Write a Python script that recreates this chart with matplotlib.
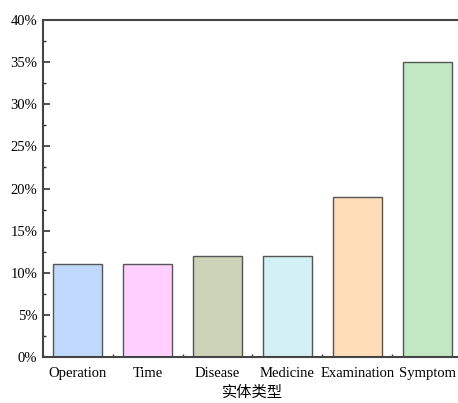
import matplotlib
matplotlib.use("Agg")
import matplotlib.pyplot as plt
from matplotlib.ticker import MultipleLocator, FuncFormatter

categories = ["Operation", "Time", "Disease", "Medicine", "Examination", "Symptom"]
values = [11, 11, 12, 12, 19, 35]
colors = ["#C0D8FB", "#FFD0FF", "#CDD3B8", "#D3F0F5", "#FFDDB8", "#C1E8C3"]

plt.rcParams["font.family"] = ["Liberation Serif", "Noto Sans CJK SC"]

fig = plt.figure(figsize=(4.58, 4.03), dpi=100)
# axes extend a bit past the right edge, like the cropped original
ax = fig.add_axes([43 / 458, 1 - 357 / 403, 419 / 458, 337 / 403])

x = list(range(len(categories)))
ax.bar(x, values, width=0.7, color=colors, edgecolor="#555555", linewidth=1.0, zorder=2)

ax.set_xlim(-0.5, 5.5)
ax.set_ylim(0, 40)
ax.set_xticks(x)
ax.set_xticklabels(categories, fontsize=10.5)
ax.xaxis.set_minor_locator(MultipleLocator(1, offset=0.5))
ax.yaxis.set_major_locator(MultipleLocator(5))
ax.yaxis.set_minor_locator(MultipleLocator(2.5))
ax.yaxis.set_major_formatter(FuncFormatter(lambda v, p: "%d%%" % v))
ax.tick_params(axis="y", labelsize=10.5, pad=4)
ax.tick_params(axis="x", pad=7)

ax.tick_params(which="major", direction="in", length=5, width=1.2, color="#333333",
               top=False, right=False)
ax.tick_params(which="minor", direction="in", length=2.5, width=1.0, color="#333333",
               top=False, right=False)

for side in ["left", "bottom", "top", "right"]:
    ax.spines[side].set_linewidth(1.5)
    ax.spines[side].set_color("#444444")

ax.set_xlabel("实体类型", fontsize=11, family=["Noto Sans CJK SC"], labelpad=3)

fig.savefig("out.png", dpi=100)
